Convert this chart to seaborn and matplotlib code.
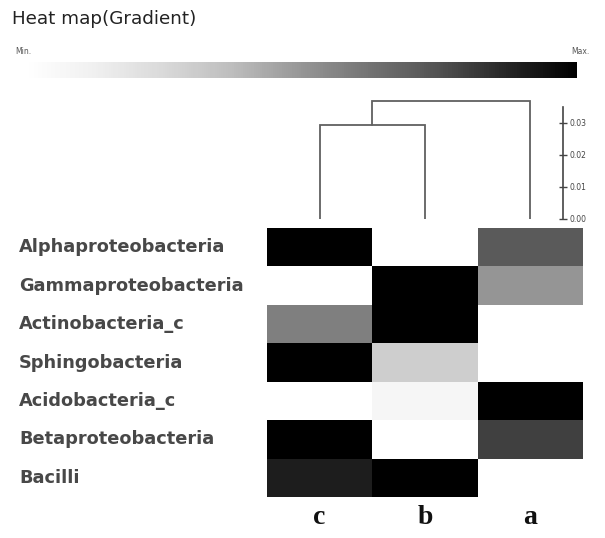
import matplotlib
matplotlib.use("Agg")
import matplotlib.pyplot as plt
import seaborn as sns
import numpy as np
import pandas as pd

# ---- data ----
taxa = ["Alphaproteobacteria", "Gammaproteobacteria", "Actinobacteria_c",
        "Sphingobacteria", "Acidobacteria_c", "Betaproteobacteria", "Bacilli"]
samples = ["c", "b", "a"]
val_c = [1.00, 0.00, 0.58, 1.00, 0.00, 1.00, 0.90]
val_b = [0.00, 1.00, 1.00, 0.30, 0.08, 0.00, 1.00]
val_a = [0.72, 0.50, 0.00, 0.00, 1.00, 0.80, 0.00]
# dendrogram merge heights
merge_cb_height = 0.0293
merge_top_height = 0.0369
scale_ticks = [0.00, 0.01, 0.02, 0.03]

df = pd.DataFrame({"c": val_c, "b": val_b, "a": val_a}, index=taxa)[samples]

sns.set_style("white")
fig = plt.figure(figsize=(6.05, 5.38), dpi=100)
W, H = 605, 538

def ax_px(x0, y0, x1, y1):
    return fig.add_axes([x0 / W, 1 - y1 / H, (x1 - x0) / W, (y1 - y0) / H])

txt = "#484848"

# heatmap
hx0, hx1, hy0, hy1 = 267, 583, 228, 497
axh = ax_px(hx0, hy0, hx1, hy1)
sns.heatmap(df, ax=axh, cmap="Greys", vmin=0, vmax=1, cbar=False,
            linewidths=0)
axh.set_xlabel("")
axh.set_ylabel("")
axh.tick_params(axis="both", length=0)
axh.set_yticklabels(taxa, rotation=0, ha="left", fontsize=12.8,
                    color=txt, family="DejaVu Sans", fontweight="bold")
axh.tick_params(axis="y", pad=(hx0 - 19) * 72 / 100)
axh.set_xticklabels(samples, fontsize=20, fontweight="bold",
                    family="Liberation Serif", color="#111111")
axh.tick_params(axis="x", pad=6)

# dendrogram
dy0 = 219
dy1 = 219 - 0.04 * 3200
axd = ax_px(hx0, dy1, hx1, dy0)
axd.set_xlim(0, 3)
axd.set_ylim(0, 0.04)
axd.axis("off")
lc = "#606060"
lw = 1.3
xc, xb, xa = 0.5, 1.5, 2.5
axd.plot([xc, xc, xb, xb], [0, merge_cb_height, merge_cb_height, 0],
         color=lc, lw=lw, solid_joinstyle="miter")
xm = (xc + xb) / 2
axd.plot([xm, xm, xa, xa], [merge_cb_height, merge_top_height,
                            merge_top_height, 0],
         color=lc, lw=lw, solid_joinstyle="miter")

# scale axis
axs = ax_px(553, dy1, 563, dy0)
axs.set_ylim(0, 0.04)
axs.set_xticks([])
for s in ["left", "top", "bottom"]:
    axs.spines[s].set_visible(False)
axs.spines["right"].set_bounds(0, 0.035)
axs.spines["right"].set_color("#444444")
axs.spines["right"].set_linewidth(1.2)
axs.yaxis.tick_right()
axs.set_yticks(scale_ticks)
axs.set_yticklabels([f"{t:.2f}" for t in scale_ticks])
axs.tick_params(axis="y", direction="inout", length=6, width=1,
                labelsize=5.5, colors="#444444", pad=2)
axs.patch.set_alpha(0)

# colorbar
axc = ax_px(25, 62, 577, 78)
sm = plt.cm.ScalarMappable(cmap="Greys", norm=plt.Normalize(0, 1))
cb = fig.colorbar(sm, cax=axc, orientation="horizontal")
cb.outline.set_visible(False)
cb.set_ticks([])
fig.text(15 / W, 1 - 52 / H, "Min.", fontsize=5.5, color="#555555",
         va="center", ha="left")
fig.text(590 / W, 1 - 52 / H, "Max.", fontsize=5.5, color="#555555",
         va="center", ha="right")

fig.text(12 / W, 1 - 19 / H, "Heat map(Gradient)", fontsize=13.2,
         color="#222222", va="center", ha="left")

fig.savefig("out.png", dpi=100)
